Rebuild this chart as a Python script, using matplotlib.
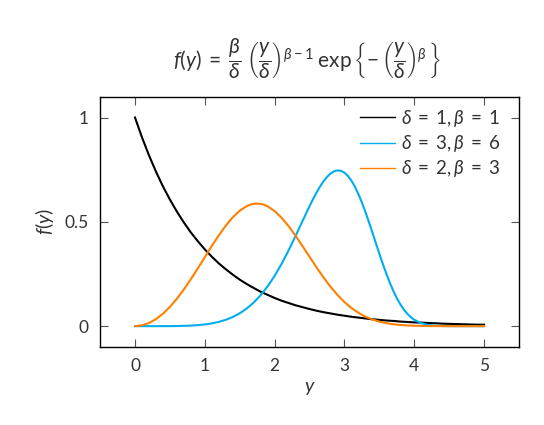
import matplotlib
matplotlib.use("Agg")
import matplotlib.pyplot as plt

plt.rcParams['font.family'] = ['Lato', 'DejaVu Sans']
plt.rcParams['font.weight'] = 'normal'
plt.rcParams['mathtext.fontset'] = 'custom'
plt.rcParams['mathtext.rm'] = 'Lato'
plt.rcParams['mathtext.it'] = 'Lato:italic'
plt.rcParams['mathtext.bf'] = 'Lato:bold'

y_vals = [round(0.1 * i, 1) for i in range(51)]

f_d1_b1 = [1.000, 0.905, 0.819, 0.741, 0.670, 0.607, 0.549, 0.497, 0.449, 0.407,
           0.368, 0.333, 0.301, 0.273, 0.247, 0.223, 0.202, 0.183, 0.165, 0.150,
           0.135, 0.122, 0.111, 0.100, 0.091, 0.082, 0.074, 0.067, 0.061, 0.055,
           0.050, 0.045, 0.041, 0.037, 0.033, 0.030, 0.027, 0.025, 0.022, 0.020,
           0.018, 0.017, 0.015, 0.014, 0.012, 0.011, 0.010, 0.009, 0.008, 0.007,
           0.007]

# delta=3, beta=6: denser sampling around the peak
y_d3_b6 = ([round(0.1 * i, 1) for i in range(23)]
           + [round(2.3 + 0.05 * i, 2) for i in range(35)]
           + [round(4.0 + 0.1 * i, 1) for i in range(1, 11)])
f_d3_b6 = [0.0, 0.0, 0.0, 0.0, 0.0001, 0.0003, 0.0006, 0.0014, 0.0027, 0.0049,
           0.0082, 0.0132, 0.0204, 0.0304, 0.0438, 0.0615, 0.0843, 0.1131, 0.1484, 0.1911,
           0.2412, 0.2988, 0.3631,
           0.4324,
           0.4682, 0.5042, 0.5400, 0.5750, 0.6086, 0.6402, 0.6689, 0.6942, 0.7152,
           0.7314, 0.7420, 0.7465, 0.7446, 0.7358, 0.7201, 0.6975, 0.6683, 0.6331,
           0.5926, 0.5479, 0.4996, 0.4493, 0.3981, 0.3472, 0.2980, 0.2513, 0.2081,
           0.1690, 0.1346, 0.1049, 0.0799, 0.0595, 0.0432, 0.0306,
           0.0141, 0.0058, 0.0021, 0.0006, 0.0002, 0.0, 0.0, 0.0, 0.0, 0.0]

y_d2_b3 = ([round(0.1 * i, 1) for i in range(17)]
           + [1.65, 1.7, 1.75, 1.8, 1.85]
           + [round(1.9 + 0.1 * i, 1) for i in range(32)])
f_d2_b3 = [0.0, 0.004, 0.015, 0.0336, 0.0595, 0.0923, 0.1314, 0.1760, 0.2251, 0.2773,
           0.3309, 0.3842, 0.4351, 0.4816, 0.5216, 0.5533, 0.5753,
           0.5823, 0.5864, 0.5877, 0.5861, 0.5817,
           0.5744,
           0.5518, 0.5196, 0.4795, 0.4335, 0.3836, 0.3324, 0.2816, 0.2335, 0.1891, 0.1496,
           0.1155, 0.0870, 0.0639, 0.0457, 0.0319, 0.0216, 0.0142, 0.0091, 0.0057, 0.0034,
           0.0020, 0.0011, 0.0006, 0.0003, 0.0002, 0.0001, 0.0, 0.0, 0.0, 0.0,
           0.0]

labels = [r'$\delta\;=\;1, \beta\;=\;1$', r'$\delta\;=\;3, \beta\;=\;6$', r'$\delta\;=\;2, \beta\;=\;3$']
colors = ['black', '#00AEEF', '#FF8000']
x_ticks = [0, 1, 2, 3, 4, 5]
y_ticks = [0, 0.5, 1]
y_ticklabels = ['0', '0.5', '1']

text_color = '#333333'

fig = plt.figure(figsize=(5.44, 4.25), dpi=100)
ax = fig.add_axes([0.184, 0.1835, 0.77, 0.589])

series = [(y_vals, f_d1_b1), (y_d3_b6, f_d3_b6), (y_d2_b3, f_d2_b3)]
for (xs, data), lab, c in zip(series, labels, colors):
    ax.plot(xs, data, color=c, lw=1.5, label=lab, solid_joinstyle='round')

ax.set_xlim(-0.5, 5.5)
ax.set_ylim(-0.1, 1.1)
ax.set_xticks(x_ticks)
ax.set_xticklabels([str(t) for t in x_ticks])
ax.set_yticks(y_ticks)
ax.set_yticklabels(y_ticklabels)
ax.tick_params(direction='in', top=True, right=True, length=6, width=0.8,
               color='#555555', labelsize=12.5, labelcolor=text_color, pad=8)
for s in ax.spines.values():
    s.set_linewidth(1.0)

ax.set_xlabel(r'$y$', fontsize=14, color=text_color, labelpad=4)
ax.set_ylabel(r'$f(y)$', fontsize=14, color=text_color, labelpad=6)

leg = ax.legend(loc='upper right', bbox_to_anchor=(0.983, 1.0), frameon=False,
                fontsize=13.5, handlelength=1.9, handletextpad=0.3,
                labelspacing=0.22, borderaxespad=0.2)
for line in leg.get_lines():
    line.set_linewidth(1.0)
for t in leg.get_texts():
    t.set_color(text_color)

fig.text(0.565, 0.862,
         r'$f(y)\;=\;\dfrac{\beta}{\delta}\;\left(\dfrac{y}{\delta}\right)^{\beta-1}\;\mathrm{exp}\,\left\{-\,\left(\dfrac{y}{\delta}\right)^{\beta}\,\right\}$',
         ha='center', va='center', fontsize=15, color=text_color)

fig.savefig('out.png', dpi=100)
